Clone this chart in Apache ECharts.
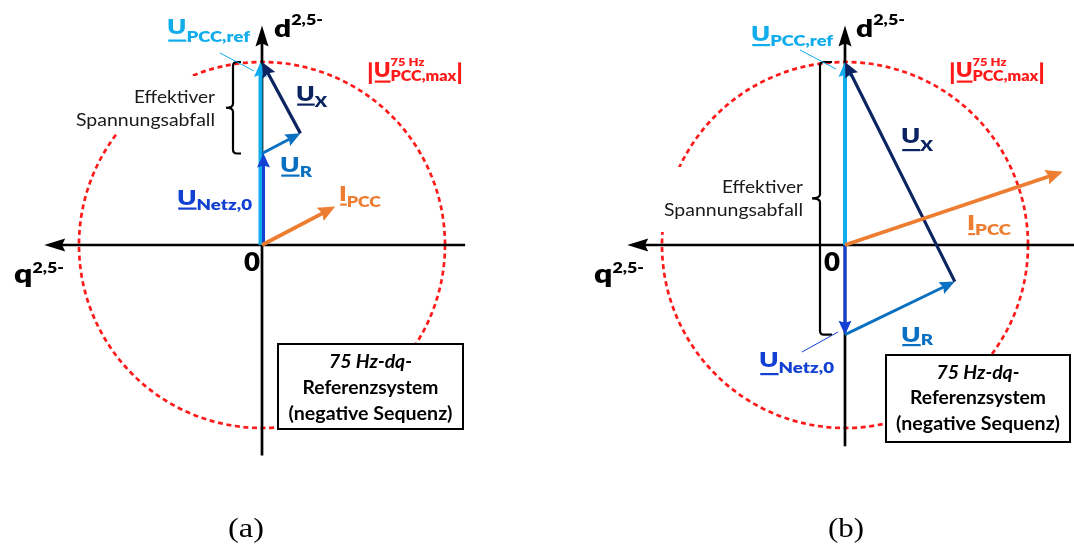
<!DOCTYPE html>
<html><head><meta charset="utf-8">
<script src="https://cdn.jsdelivr.net/npm/echarts@6/dist/echarts.min.js"></script>
<style>html,body{margin:0;padding:0;background:#fff}#c{width:1074px;height:545px}</style>
</head><body><div id="c"></div>
<script>
// ---------------- data (units: |U_PCC,max| = 1) ----------------
const vectorNames = ['U_PCC,ref', 'U_Netz,0', 'U_R', 'U_X', 'I_PCC'];
const vecStartA = [[0, 0], [0, 0], [0, 0.50], [0.21, 0.61], [0, 0]];
const vecEndA   = [[0, 1.00], [0, 0.50], [0.21, 0.61], [0, 1.00], [0.40, 0.21]];
const vecStartB = [[0, 0], [0, 0], [0, -0.49], [0.60, -0.20], [0, 0]];
const vecEndB   = [[0, 1.00], [0, -0.49], [0.60, -0.20], [0, 1.00], [1.19, 0.40]];
const circleRadius = 1.0;
const qAxisA = [1.11, -1.19], dAxisA = [-1.15, 1.20];
const qAxisB = [1.26, -1.19], dAxisB = [-1.10, 1.20];
const panelLabels = ['(a)', '(b)'];

// ---------------- style ----------------
const LB = '#10ACEC', ROYAL = '#1240D2', BLUE = '#0A70C2', NAVY = '#0B2461', ORANGE = '#ED7D31', RED = '#FF1A1A';
const VEC_STYLE = [
  {color: LB, lw: 4, L: 15, hw: 6.5},
  {color: ROYAL, lw: 3, L: 14, hw: 6.5},
  {color: BLUE, lw: 3, L: 15, hw: 6.5},
  {color: NAVY, lw: 3.2, L: 15, hw: 7},
  {color: ORANGE, lw: 3.8, L: 17, hw: 7.5}
];
const S = 183;
const ORIGIN = [[262, 245], [845, 245]];
const XR = 1.25, YR = 1.3;
const HW = 800; // heavy label weight

function arrowEls(p0, p1, color, lw, L, hw) {
  const dx = p1[0] - p0[0], dy = p1[1] - p0[1];
  const len = Math.hypot(dx, dy) || 1;
  const ux = dx / len, uy = dy / len, nx = -uy, ny = ux;
  const bx = p1[0] - ux * L, by = p1[1] - uy * L;
  const ex = p1[0] - ux * L * 0.6, ey = p1[1] - uy * L * 0.6;
  const mx = p1[0] - ux * L * 0.85, my = p1[1] - uy * L * 0.85;
  return [
    {type: 'line', shape: {x1: p0[0], y1: p0[1], x2: ex, y2: ey}, style: {stroke: color, lineWidth: lw, lineCap: 'butt'}},
    {type: 'polygon', shape: {points: [[p1[0], p1[1]], [bx + nx * hw, by + ny * hw], [mx, my], [bx - nx * hw, by - ny * hw]]}, style: {fill: color}}
  ];
}

function vecData(st, en) { return st.map((s, i) => [s[0], s[1], en[i][0], en[i][1], i]); }

function vectorRender(offsets) {
  return function (params, api) {
    const i = api.value(4), st = VEC_STYLE[i];
    const p0 = api.coord([api.value(0), api.value(1)]);
    const p1 = api.coord([api.value(2), api.value(3)]);
    const o = offsets[i] || 0;
    p0[0] += o; p1[0] += o;
    return {type: 'group', children: arrowEls(p0, p1, st.color, st.lw, st.L, st.hw)};
  };
}
function axisRender(params, api) {
  const p0 = api.coord([api.value(0), api.value(1)]);
  const p1 = api.coord([api.value(2), api.value(3)]);
  return {type: 'group', children: arrowEls(p0, p1, '#000', 2.7, 21, 6.5)};
}
function circleRender(params, api) {
  const c = api.coord([api.value(0), api.value(1)]);
  const r = api.size([api.value(2), 0])[0];
  return {type: 'circle', shape: {cx: c[0], cy: c[1], r: r}, style: {fill: 'none', stroke: RED, lineWidth: 2.7, lineDash: [5, 3.6]}};
}
function braceRender(dxPix, hook, notch) {
  return function (params, api) {
    const pLo = api.coord([0, api.value(0)]);
    const pHi = api.coord([0, api.value(1)]);
    const x = pLo[0] + dxPix, y0 = pHi[1], y1 = pLo[1], ym = (y0 + y1) / 2, r = 4;
    const d = `M${x + hook},${y0} L${x + r},${y0} Q${x},${y0} ${x},${y0 + r} L${x},${ym - r} Q${x},${ym} ${x - notch},${ym} Q${x},${ym} ${x},${ym + r} L${x},${y1 - r} Q${x},${y1} ${x + r},${y1} L${x + hook},${y1}`;
    return {type: 'path', shape: {pathData: d}, style: {fill: 'none', stroke: '#000', lineWidth: 2.2}};
  };
}

const series = [];
const panels = [
  {st: vecStartA, en: vecEndA, q: qAxisA, d: dAxisA, offs: [-1.5, 1.5, 0, 0, 0], brace: [-29, 8, 7]},
  {st: vecStartB, en: vecEndB, q: qAxisB, d: dAxisB, offs: [0, 0, 0, 0, 0], brace: [-25, 12, 8]}
];
panels.forEach((p, k) => {
  const base = {type: 'custom', coordinateSystem: 'cartesian2d', xAxisIndex: k, yAxisIndex: k, silent: true, clip: false};
  series.push(Object.assign({}, base, {z: 1, data: [[0, 0, circleRadius]], renderItem: circleRender}));
  series.push(Object.assign({}, base, {z: 20, data: [[p.q[0], 0, p.q[1], 0], [0, p.d[0], 0, p.d[1]]], renderItem: axisRender}));
  series.push(Object.assign({}, base, {z: 20, data: [[p.en[1][1], p.en[0][1]]], renderItem: braceRender(p.brace[0], p.brace[1], p.brace[2])}));
  series.push(Object.assign({}, base, {z: 30, data: vecData(p.st, p.en), renderItem: vectorRender(p.offs)}));
});

// ---------------- text helpers ----------------
const mctx = document.createElement('canvas').getContext('2d');
function fontStr(s, w, it, fam) { return `${it ? 'italic ' : ''}${w || HW} ${s}px ${fam || 'Lato'}`; }
function measure(t, f) { mctx.font = f; return mctx.measureText(t).width; }
function lab(x0, targetW, parts, color, z) {
  const kids = [];
  let x = 0, prevStart = 0, prevEnd = 0;
  parts.forEach(p => {
    const f = fontStr(p.s, p.w, p.it, p.fam);
    const w = measure(p.t, f);
    const sx = p.stack ? prevStart : x;
    kids.push({type: 'text', x: sx, y: p.cy, style: {text: p.t, font: f, fill: color, align: 'left', textAlign: 'left', verticalAlign: 'middle', textVerticalAlign: 'middle'}});
    if (p.u !== undefined) kids.push({type: 'rect', shape: {x: sx + 1, y: p.u - 1, width: w - 1, height: 2.2}, style: {fill: color}});
    const end = sx + w;
    x = p.stack ? Math.max(end, prevEnd) : end;
    prevStart = sx; prevEnd = end;
  });
  const sc = targetW ? targetW / x : 1;
  return {type: 'group', x: x0, y: 0, scaleX: sc, z: z || 100, children: kids.map(k => Object.assign(k, {z: z || 100}))};
}
function centered(cx, w, parts, color) { return lab(cx - w / 2, w, parts, color); }

const G = [];
// white backgrounds for text blocks
G.push({type: 'rect', z: 50, shape: {x: 72, y: 76, width: 146, height: 58}, style: {fill: '#fff'}});
G.push({type: 'rect', z: 50, shape: {x: 658, y: 167, width: 148, height: 65}, style: {fill: '#fff'}});
// boxes
G.push({type: 'rect', z: 50, shape: {x: 278, y: 344, width: 185, height: 85}, style: {fill: '#fff', stroke: '#000', lineWidth: 2}});
G.push({type: 'rect', z: 50, shape: {x: 886, y: 355, width: 184, height: 87}, style: {fill: '#fff', stroke: '#000', lineWidth: 2}});
// leader lines
G.push({type: 'line', z: 60, shape: {x1: 220, y1: 53, x2: 254, y2: 71}, style: {stroke: LB, lineWidth: 1}});
G.push({type: 'line', z: 60, shape: {x1: 800, y1: 50, x2: 836, y2: 69}, style: {stroke: LB, lineWidth: 1}});
G.push({type: 'line', z: 60, shape: {x1: 802, y1: 352, x2: 838, y2: 332}, style: {stroke: ROYAL, lineWidth: 1}});

function panelText(k) {
  const o = ORIGIN[k][0] - ORIGIN[0][0];
  const A = k === 0;
  // U_PCC,ref
  G.push(lab(A ? 167 : 751, A ? 83 : 82, [{t: 'U', s: 21, cy: A ? 27 : 34.5, u: A ? 40.5 : 45}, {t: 'PCC,ref', s: 15, cy: A ? 37 : 41}], LB));
  // d axis
  G.push(lab(274 + o - (A ? 0 : 1), 49, [{t: 'd', s: 25, cy: 29}, {t: '2,5-', s: 15, cy: 20}], '#000'));
  // |U max|
  G.push(lab(A ? 367 : 949, 96, [{t: '|', s: 23, cy: 73}, {t: 'U', s: 21, cy: 70, u: 81.5}, {t: '75 Hz', s: 12, cy: 62}, {t: 'PCC,max', s: 15, cy: 76.5, stack: true}, {t: '|', s: 23, cy: 73}], RED));
  // Effektiver Spannungsabfall
  const r = A ? 215 : 803, c1 = A ? 97 : 187;
  G.push(lab(r - 81, 81, [{t: 'Effektiver', s: 18, w: 'normal', cy: c1}], '#1a1a1a'));
  G.push(lab(r - 139, 139, [{t: 'Spannungsabfall', s: 18, w: 'normal', cy: c1 + 23}], '#1a1a1a'));
  // U_X, U_R, U_Netz,0, I_PCC
  if (A) {
    G.push(lab(296, 31, [{t: 'U', s: 21, cy: 94.5, u: 104.5}, {t: 'X', s: 15, cy: 102}], NAVY));
    G.push(lab(280, 32, [{t: 'U', s: 21, cy: 165, u: 175.5}, {t: 'R', s: 15, cy: 172}], BLUE));
    G.push(lab(177, 75, [{t: 'U', s: 21, cy: 198, u: 208.5}, {t: 'Netz,0', s: 15, cy: 205}], ROYAL));
    G.push(lab(339, 42, [{t: 'I', s: 21, cy: 194, u: 204.5}, {t: 'PCC', s: 15, cy: 202}], ORANGE));
  } else {
    G.push(lab(901, 32, [{t: 'U', s: 21, cy: 136, u: 150}, {t: 'X', s: 15, cy: 146}], NAVY));
    G.push(lab(901, 32, [{t: 'U', s: 21, cy: 335, u: 345}, {t: 'R', s: 15, cy: 340}], BLUE));
    G.push(lab(759, 75, [{t: 'U', s: 21, cy: 360.5, u: 374}, {t: 'Netz,0', s: 15, cy: 368.5}], ROYAL));
    G.push(lab(967, 44, [{t: 'I', s: 21, cy: 223, u: 234}, {t: 'PCC', s: 15, cy: 230}], ORANGE));
  }
  // 0 and q
  G.push(lab(A ? 244 : 824, 16, [{t: '0', s: 27, cy: 262}], '#000'));
  G.push(lab(A ? 14 : 594, 50, [{t: 'q', s: 27, cy: 274}, {t: '2,5-', s: 15, cy: 268}], '#000'));
  // box text
  const bx = A ? 370.5 : 978, by = A ? 362 : 373, sp = A ? 26 : 25.5;
  G.push(centered(bx, 83, [{t: '75 Hz-dq-', s: 18, w: 'bold', it: true, cy: by}], '#000'));
  G.push(centered(bx, 136, [{t: 'Referenzsystem', s: 18, w: 'bold', cy: by + sp}], '#000'));
  G.push(centered(bx, 164, [{t: '(negative Sequenz)', s: 18, w: 'bold', cy: by + 2 * sp}], '#000'));
  // panel label
  G.push(centered(A ? 246 : 846, 36, [{t: panelLabels[k], s: 28, w: 'normal', fam: '"Liberation Serif"', cy: 530}], '#000'));
}
panelText(0); panelText(1);

const option = {
  animation: false,
  backgroundColor: '#fff',
  grid: ORIGIN.map(o => ({left: o[0] - XR * S, top: o[1] - YR * S, width: 2 * XR * S, height: 2 * YR * S})),
  xAxis: [0, 1].map(i => ({gridIndex: i, type: 'value', min: -XR, max: XR, show: false})),
  yAxis: [0, 1].map(i => ({gridIndex: i, type: 'value', min: -YR, max: YR, show: false})),
  series: series,
  graphic: {elements: G}
};
const chart = echarts.init(document.getElementById('c'), null, {renderer: 'canvas'});
chart.setOption(option);
</script>
</body></html>
